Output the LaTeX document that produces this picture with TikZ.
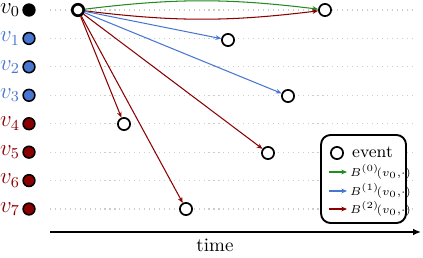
\documentclass[tikz,border=0pt]{standalone}
\usepackage{amsmath, amssymb}
\usepackage{tikz}
\usetikzlibrary{arrows.meta, positioning}
\usepackage{xcolor}

\definecolor{grn}{RGB}{34,139,34}
\definecolor{blu}{RGB}{72,118,208}
\definecolor{rd}{RGB}{139,0,0}

\begin{document}
\begin{tikzpicture}[
    x=0.525pt, y=-0.525pt,
    rowdot/.style={circle, draw, line width=0.8pt, minimum size=6.2pt, inner sep=0pt},
    event/.style={circle, draw, line width=0.9pt, fill=white, minimum size=6.4pt, inner sep=0pt},
    source/.style={circle, draw, line width=1.4pt, fill=white, minimum size=6pt, inner sep=0pt},
    grid/.style={gray!40, dotted, line width=0.6pt},
    arrow/.style={-{Stealth[length=3pt, width=2.5pt]}, line width=0.55pt},
    axis/.style={-{Latex[length=4.2pt, width=3.6pt]}, line width=0.9pt}
]
\useasboundingbox (0,0) rectangle (423,257);

% Rows of nodes
\foreach \i/\c in {0/black,1/blu,2/blu,3/blu,4/rd,5/rd,6/rd,7/rd} {
  \node[rowdot, fill=\c] (r\i) at (29,10+28.43*\i) {};
  \node[left=1pt of r\i, text=\c, font=\large, inner sep=0pt] (l\i) {$v_{\i}$};
  \coordinate (ga\i) at (50,10+28.43*\i);
  \coordinate (gb\i) at (415,10+28.43*\i);
  \draw[grid] (ga\i) -- (gb\i);
}

% Time axis
\coordinate (ta) at (50,232);
\coordinate (tb) at (421,232);
\draw[axis] (ta) -- (tb);
\node at (215,245) (time) {time};

% Events
\node[source] (s) at (78,10) {};
\node[event] (e1) at (325,10) {};
\node[event] (e2) at (228,40) {};
\node[event] (e3) at (288,96) {};
\node[event] (e4) at (124,124) {};
\node[event] (e5) at (268,153) {};
\node[event] (e6) at (186,209) {};

\draw[arrow, grn] (s) to[bend left=7] (e1);
\draw[arrow, rd] (s) to[bend right=7] (e1);
\draw[arrow, blu] (s) -- (e2);
\draw[arrow, blu] (s) -- (e3);
\draw[arrow, rd] (s) -- (e4);
\draw[arrow, rd] (s) -- (e5);
\draw[arrow, rd] (s) -- (e6);

% Legend
\node[draw, line width=1pt, rounded corners=5pt, fill=white,
      minimum width=44.6pt, minimum height=46.2pt] (leg) at (363.5,179) {};
\node[event] (lev) at (337,153) {};
\node[anchor=west, font=\small, inner sep=1.5pt] (lt) at (349,152) {event};

\foreach \k/\c/\y in {0/grn/172,1/blu/191,2/rd/209} {
  \coordinate (lk\k) at (329,\y);
  \node[anchor=west, font=\fontsize{6.2}{7}\selectfont, inner sep=1.5pt] (lb\k) at (347,\y) {$B^{(\k)}\!(v_0,\!\cdot)$};
  \draw[arrow, \c] (lk\k) -- (lb\k);
}

\end{tikzpicture}
\end{document}
